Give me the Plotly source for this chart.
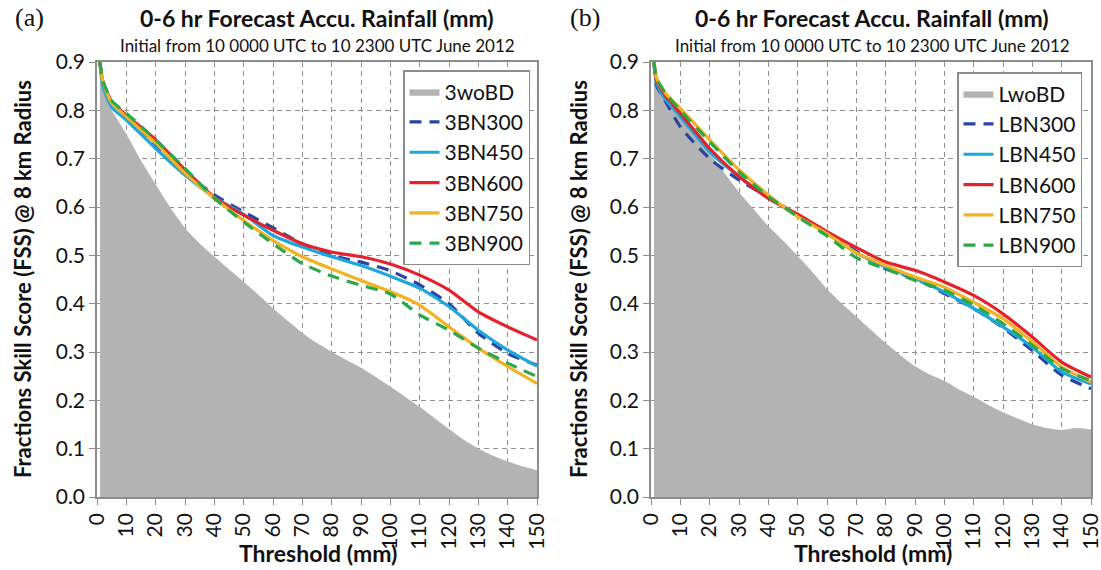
import plotly.graph_objects as go

# ---------------- data ----------------
thr = [1, 2, 5, 10, 20, 30, 40, 50, 60, 70, 80, 90, 100, 110, 120, 130, 140, 150]
gthr = [1, 2, 5, 10, 15, 20, 25, 30, 35, 40, 45, 50, 55, 60, 65, 70, 75, 80, 85, 90,
        95, 100, 105, 110, 115, 120, 125, 130, 135, 140, 145, 150]

# panel (a)
a_woBD = [0.90, 0.84, 0.80, 0.75, 0.695, 0.646, 0.598, 0.556, 0.524, 0.497, 0.47, 0.445,
          0.418, 0.39, 0.364, 0.339, 0.318, 0.30, 0.283, 0.267, 0.248, 0.228, 0.207,
          0.186, 0.163, 0.14, 0.118, 0.10, 0.085, 0.073, 0.063, 0.055]
a_BN300 = [0.90, 0.855, 0.815, 0.785, 0.728, 0.672, 0.625, 0.59, 0.557, 0.524, 0.50,
           0.486, 0.468, 0.439, 0.40, 0.339, 0.297, 0.273]
a_BN450 = [0.90, 0.85, 0.807, 0.78, 0.721, 0.666, 0.62, 0.585, 0.541, 0.517, 0.497,
           0.479, 0.457, 0.432, 0.394, 0.345, 0.304, 0.271]
a_BN600 = [0.90, 0.86, 0.818, 0.79, 0.739, 0.677, 0.62, 0.583, 0.552, 0.524, 0.507,
           0.497, 0.482, 0.459, 0.428, 0.383, 0.352, 0.325]
a_BN750 = [0.90, 0.86, 0.815, 0.787, 0.732, 0.67, 0.618, 0.572, 0.531, 0.497, 0.472,
           0.448, 0.425, 0.397, 0.352, 0.308, 0.27, 0.235]
a_BN900 = [0.90, 0.862, 0.82, 0.794, 0.739, 0.68, 0.618, 0.569, 0.524, 0.483, 0.457,
           0.438, 0.42, 0.377, 0.345, 0.308, 0.277, 0.249]

# panel (b)
b_woBD = [0.90, 0.85, 0.82, 0.785, 0.75, 0.71, 0.67, 0.63, 0.595, 0.56, 0.53, 0.498,
          0.465, 0.43, 0.40, 0.373, 0.345, 0.318, 0.293, 0.27, 0.253, 0.24, 0.222,
          0.207, 0.19, 0.175, 0.162, 0.15, 0.142, 0.138, 0.142, 0.139]
b_BN300 = [0.90, 0.85, 0.818, 0.766, 0.70, 0.656, 0.62, 0.583, 0.548, 0.508, 0.472,
           0.452, 0.421, 0.39, 0.35, 0.303, 0.252, 0.224]
b_BN450 = [0.90, 0.855, 0.822, 0.787, 0.714, 0.663, 0.62, 0.582, 0.545, 0.505, 0.476,
           0.452, 0.424, 0.39, 0.352, 0.31, 0.259, 0.234]
b_BN600 = [0.90, 0.86, 0.83, 0.794, 0.721, 0.663, 0.618, 0.585, 0.549, 0.516, 0.486,
           0.469, 0.445, 0.417, 0.379, 0.331, 0.279, 0.248]
b_BN750 = [0.90, 0.865, 0.835, 0.804, 0.739, 0.677, 0.625, 0.58, 0.545, 0.505, 0.479,
           0.455, 0.434, 0.403, 0.369, 0.321, 0.269, 0.238]
b_BN900 = [0.90, 0.865, 0.835, 0.80, 0.735, 0.673, 0.622, 0.58, 0.54, 0.495, 0.472,
           0.448, 0.428, 0.397, 0.359, 0.314, 0.266, 0.241]

a_names = ["3woBD", "3BN300", "3BN450", "3BN600", "3BN750", "3BN900"]
b_names = ["LwoBD", "LBN300", "LBN450", "LBN600", "LBN750", "LBN900"]

x_ticks = list(range(0, 151, 10))
y_ticks = [0.0, 0.1, 0.2, 0.3, 0.4, 0.5, 0.6, 0.7, 0.8, 0.9]

# ---------------- style ----------------
FONT = "Lato"
GRAY_FILL = "#b3b3b3"
GRID = "#8f8f8f"
FRAME = "#8c8c8c"
colors = ["#2a45a0", "#1ea7de", "#e3222b", "#f4b120", "#2ba84a"]
dashes = ["12px,8px", "solid", "solid", "solid", "12px,8px"]
W = 1101
H = 570

fig = go.Figure()

def add_panel(xa, ya, legend, names, woBD, series):
    fig.add_trace(go.Scatter(
        x=gthr, y=woBD, name=names[0], mode="lines", fill="tozeroy",
        fillcolor=GRAY_FILL,
        line=dict(color=GRAY_FILL, width=0.5, shape="spline", smoothing=0.6),
        xaxis=xa, yaxis=ya, legend=legend))
    for nm, ys, c, d in zip(names[1:], series, colors, dashes):
        fig.add_trace(go.Scatter(
            x=thr, y=ys, name=nm, mode="lines",
            line=dict(color=c, width=3.2, dash=d, shape="spline", smoothing=0.6),
            xaxis=xa, yaxis=ya, legend=legend))

add_panel("x", "y", "legend", a_names, a_woBD,
          [a_BN300, a_BN450, a_BN600, a_BN750, a_BN900])
add_panel("x2", "y2", "legend2", b_names, b_woBD,
          [b_BN300, b_BN450, b_BN600, b_BN750, b_BN900])

def px_x(p):
    return p / W

def px_y(p):
    return 1 - p / H

common_x = dict(range=[0, 150], tickvals=x_ticks, ticktext=[str(v) for v in x_ticks],
                tickangle=-90, showgrid=True, gridcolor=GRID, griddash="5px,4px",
                gridwidth=1, showline=True, linecolor=FRAME, linewidth=1.5,
                mirror=True, ticks="outside", ticklen=6, tickcolor=FRAME,
                automargin=False, ticklabeloverflow="allow",
                tickfont=dict(family=FONT, size=21, color="#111"), zeroline=False)
common_y = dict(range=[0, 0.9], tickvals=y_ticks, ticktext=[f"{v:.1f}" for v in y_ticks],
                showgrid=True, gridcolor=GRID, griddash="5px,4px", gridwidth=1,
                showline=True, linecolor=FRAME, linewidth=1.5, mirror=True,
                ticks="outside", ticklen=6, tickcolor=FRAME, automargin=False,
                ticklabeloverflow="allow",
                tickfont=dict(family=FONT, size=21, color="#111"), zeroline=False)

fig.update_layout(
    width=W, height=H, margin=dict(l=0, r=0, t=0, b=0, autoexpand=False),
    paper_bgcolor="white", plot_bgcolor="white",
    xaxis=dict(domain=[px_x(97), px_x(537)], anchor="y", **common_x),
    yaxis=dict(domain=[px_y(497), px_y(62)], anchor="x", **common_y),
    xaxis2=dict(domain=[px_x(651), px_x(1091)], anchor="y2", **common_x),
    yaxis2=dict(domain=[px_y(497), px_y(62)], anchor="x2", **common_y),
    legend=dict(x=px_x(403), y=px_y(70), xanchor="left", yanchor="top",
                bgcolor="white", bordercolor=FRAME, borderwidth=1.5,
                font=dict(family=FONT, size=21, color="#111"),
                tracegroupgap=0, itemwidth=30),
    legend2=dict(x=px_x(957), y=px_y(72), xanchor="left", yanchor="top",
                 bgcolor="white", bordercolor=FRAME, borderwidth=1.5,
                 font=dict(family=FONT, size=21, color="#111"),
                 tracegroupgap=0, itemwidth=30),
    showlegend=True,
)

ann = []
for cx, ytx in [(317, 22), (872, 578)]:
    ann.append(dict(x=px_x(cx), y=px_y(18), xref="paper", yref="paper",
                    text="<b>0-6 hr Forecast Accu. Rainfall (mm)</b>", showarrow=False,
                    font=dict(family=FONT, size=23, color="#111"),
                    xanchor="center", yanchor="middle"))
    ann.append(dict(x=px_x(cx), y=px_y(45), xref="paper", yref="paper",
                    text="Initial from 10 0000 UTC to 10 2300 UTC June 2012",
                    showarrow=False, font=dict(family=FONT, size=17, color="#111"),
                    xanchor="center", yanchor="middle"))
    ann.append(dict(x=px_x(cx + 1), y=px_y(553), xref="paper", yref="paper",
                    text="<b>Threshold (mm)</b>", showarrow=False,
                    font=dict(family=FONT, size=23, color="#111"),
                    xanchor="center", yanchor="middle"))
    ann.append(dict(x=px_x(ytx), y=px_y(279), xref="paper", yref="paper",
                    text="<b>Fractions Skill Score (FSS) @ 8 km Radius</b>",
                    showarrow=False, textangle=-90,
                    font=dict(family=FONT, size=22, color="#111"),
                    xanchor="center", yanchor="middle"))
ann.append(dict(x=px_x(29), y=px_y(18), xref="paper", yref="paper", text="(a)",
                showarrow=False, font=dict(family="Liberation Serif", size=26, color="#111"),
                xanchor="center", yanchor="middle"))
ann.append(dict(x=px_x(585), y=px_y(18), xref="paper", yref="paper", text="(b)",
                showarrow=False, font=dict(family="Liberation Serif", size=26, color="#111"),
                xanchor="center", yanchor="middle"))
fig.update_layout(annotations=ann)

fig.write_html("out.html")
